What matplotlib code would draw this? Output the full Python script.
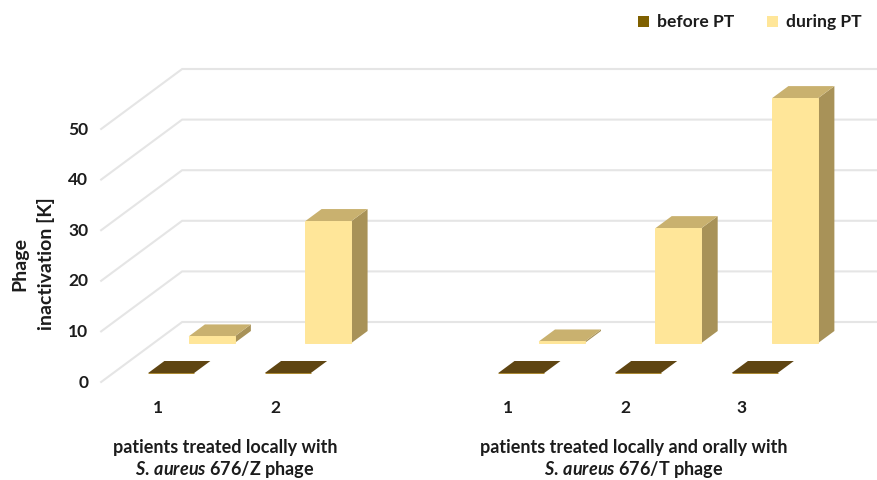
import matplotlib
matplotlib.use('Agg')
import matplotlib.pyplot as plt
from matplotlib.patches import Polygon, Rectangle

plt.rcParams['font.family'] = ['Lato', 'DejaVu Sans']
plt.rcParams['font.weight'] = 'bold'
plt.rcParams['mathtext.fontset'] = 'custom'
plt.rcParams['mathtext.it'] = 'Lato:italic:bold'
plt.rcParams['mathtext.rm'] = 'Lato:bold'

# Slot 2 is the empty gap between the two patient groups
positions = [0, 1, 3, 4, 5]
patient_labels = ['1', '2', '1', '2', '3']
before_pt = [0, 0, 0, 0, 0]
during_pt = [1.3, 24.1, 0.3, 22.7, 48.4]
y_ticks = [0, 10, 20, 30, 40, 50]

W, H = 877, 480
TEXT = '#1c1c1c'
GRID = '#e5e5e5'

# one category is 116.7 px wide, one value unit is 5.06 px tall
DX = 81 / 116.7
DY = 60 / 5.06
BAR_W = 46 / 116.7
N_SLOTS = 6


def skew(x, y, d):
    # move a point from the front plane towards the back wall
    return (x + DX * d, y + DY * d)


def draw_bar(ax, pos, value, d0, d1, front, top, side):
    x0, x1 = pos - BAR_W / 2 - 0.004, pos + BAR_W / 2 - 0.004
    ax.add_patch(Polygon([skew(x1, 0, d0), skew(x1, 0, d1), skew(x1, value, d1), skew(x1, value, d0)],
                         fc=side, ec='none', zorder=3))
    ax.add_patch(Polygon([skew(x0, value, d0), skew(x1, value, d0), skew(x1, value, d1), skew(x0, value, d1)],
                         fc=top, ec='none', zorder=3))
    ax.add_patch(Polygon([skew(x0, 0, d0), skew(x1, 0, d0), skew(x1, value, d0), skew(x0, value, d0)],
                         fc=front, ec=front, lw=0.7, zorder=3))


fig = plt.figure(figsize=(W / 100, H / 100), dpi=100)
ax = fig.add_axes([0, 0, 1, 1])
ax.set_xlim((0 - 159.5) / 116.7, (W - 159.5) / 116.7)
ax.set_ylim((382 - H) / 5.06, 382 / 5.06)
ax.axis('off')

# side wall diagonals and back wall lines
left = -0.5
right = N_SLOTS - 0.5
for v in y_ticks:
    p0 = (left, v)
    p1 = skew(left, v, 1)
    p2 = skew(right, v, 1)
    ax.plot([p0[0], p1[0], p2[0]], [p0[1], p1[1], p2[1]], color=GRID, lw=1.5, zorder=1,
            solid_joinstyle='miter')
    ax.text(left - 0.11, v - 0.1, str(v), ha='right', va='center', fontsize=12.5, color=TEXT)

for pos, val in zip(positions, during_pt):
    draw_bar(ax, pos, val, 0.65, 0.85, '#ffe699', '#c9b16f', '#a89258')

for pos, val in zip(positions, before_pt):
    draw_bar(ax, pos, val, 0.15, 0.35, '#a9862e', '#5f4512', '#5f4512')

for pos, lab in zip(positions, patient_labels):
    ax.text(pos - 0.01, -5.1, lab, ha='center', va='center', fontsize=12.5, color=TEXT)


def fig_text(x, y, s, **kw):
    fig.text(x / W, 1 - y / H, s, color=TEXT, va='center', **kw)


fig_text(33, 264, 'Phage\ninactivation [K]', rotation=90, ha='center', fontsize=14,
         linespacing=1.6, multialignment='center')

fig_text(225, 448, 'patients treated locally with', ha='center', fontsize=13)
fig_text(225, 470, r'$\mathit{S.\,aureus}$ 676/Z phage', ha='center', fontsize=13)
fig_text(633.5, 448, 'patients treated locally and orally with', ha='center', fontsize=13)
fig_text(634, 470, r'$\mathit{S.\,aureus}$ 676/T phage', ha='center', fontsize=13)

# legend
for x, col in [(638, '#7f6000'), (767, '#ffe699')]:
    fig.add_artist(Rectangle((x / W, 1 - 27 / H), 11 / W, 11 / H, transform=fig.transFigure,
                             fc=col, ec='none'))
fig_text(657, 22, 'before PT', ha='left', fontsize=12.6)
fig_text(786, 22, 'during PT', ha='left', fontsize=12.6)

fig.savefig('out.png', dpi=100, facecolor='white')
